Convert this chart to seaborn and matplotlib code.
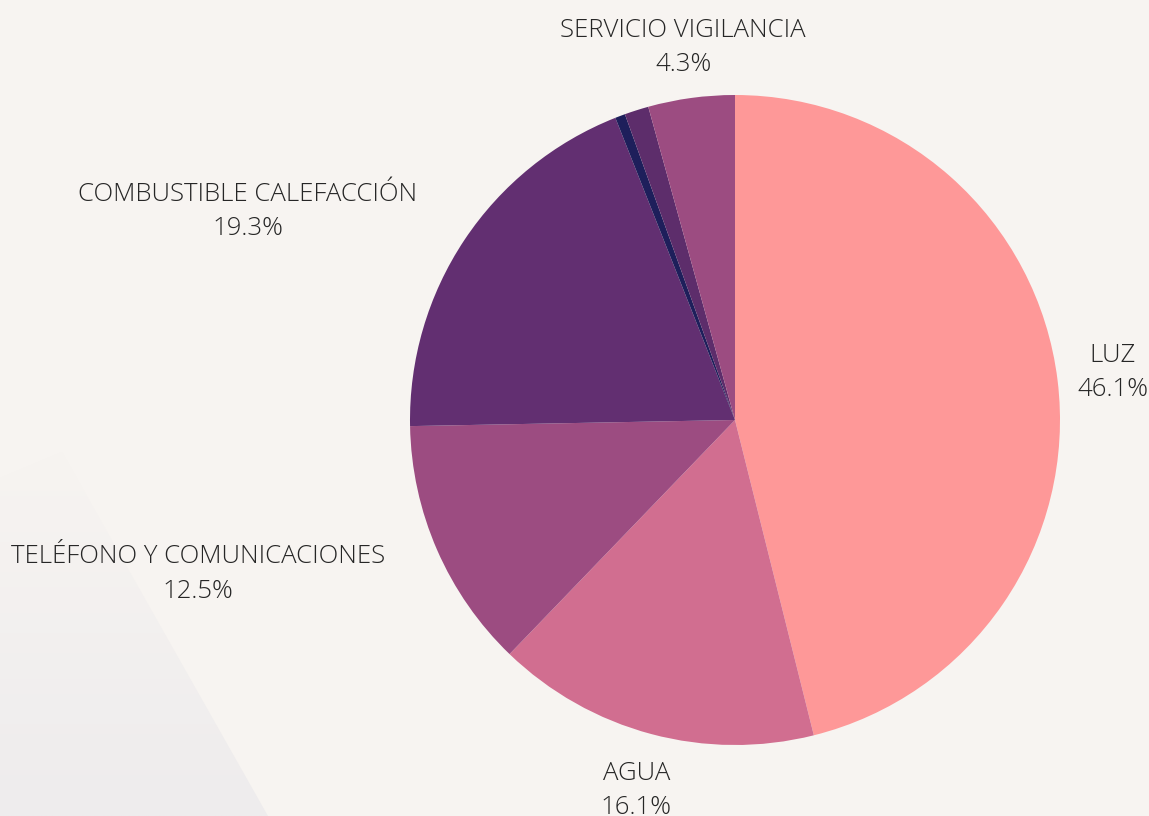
import numpy as np
import matplotlib
matplotlib.use("Agg")
import matplotlib.pyplot as plt
import seaborn as sns
from matplotlib.patches import Polygon
from matplotlib.colors import LinearSegmentedColormap

categories = ["LUZ", "AGUA", "TELÉFONO Y COMUNICACIONES", "COMBUSTIBLE CALEFACCIÓN",
              "OTROS", "MANTENCIÓN", "SERVICIO VIGILANCIA"]
values = [46.1, 16.1, 12.5, 19.3, 0.5, 1.2, 4.3]
colors = ["#fe9898", "#d16e90", "#9c4c81", "#622f71", "#1e1f5b", "#5d2d6b", "#9c4c81"]

# small pixel nudges for the outside labels (plotly-like placement)
label_nudge = {
    "LUZ": ("left", "center", -3, 5),
    "AGUA": ("center", "top", -9, -5),
    "TELÉFONO Y COMUNICACIONES": ("right", "top", -31, 15),
    "COMBUSTIBLE CALEFACCIÓN": ("right", "bottom", -28, -14),
    "SERVICIO VIGILANCIA": ("center", "bottom", -5, -2),
}

sns.set_theme(style="white")
plt.rcParams["font.family"] = ["Open Sans", "DejaVu Sans"]

W, H = 1149, 816
bg = "#f7f4f1"
fig = plt.figure(figsize=(W / 100, H / 100), dpi=100, facecolor=bg)

# faint decorative triangle with a soft gradient in the lower-left corner
bgax = fig.add_axes([0, 0, 1, 1], zorder=0)
bgax.set_xlim(0, W)
bgax.set_ylim(H, 0)
bgax.axis("off")
grad = LinearSegmentedColormap.from_list("g", [bg, "#eeeced"])
img = bgax.imshow(np.linspace(0, 1, 256).reshape(-1, 1), cmap=grad, aspect="auto",
                  extent=(0, 270, H, 450))
tri = Polygon([(0, 478), (62, 452), (268, H), (0, H)], closed=True,
              facecolor="none", edgecolor="none", transform=bgax.transData)
bgax.add_patch(tri)
img.set_clip_path(tri)
bgax.set_xlim(0, W)
bgax.set_ylim(H, 0)

cx, cy, r = 735, 420, 325
ax = fig.add_axes([(cx - r) / W, (H - cy - r) / H, 2 * r / W, 2 * r / H], zorder=1)
ax.set_facecolor("none")

wedges, _ = ax.pie(values, colors=colors, startangle=90, counterclock=False,
                   radius=1, wedgeprops={"linewidth": 0})
ax.set_xlim(-1, 1)
ax.set_ylim(-1, 1)
ax.set_aspect("equal")
ax.axis("off")

for w, name, v in zip(wedges, categories, values):
    if name not in label_nudge:
        continue
    ang = np.deg2rad((w.theta1 + w.theta2) / 2)
    ha, va, dx, dy = label_nudge[name]
    ax.annotate(f"{name}\n{v:.1f}%", xy=(1.07 * np.cos(ang), 1.07 * np.sin(ang)),
                xytext=(dx, dy), textcoords="offset pixels",
                ha=ha, va=va, ma="center", fontsize=18.5, fontweight="light",
                color="#262626", linespacing=1.5, annotation_clip=False)

fig.savefig("out.png", dpi=100, facecolor=bg)
